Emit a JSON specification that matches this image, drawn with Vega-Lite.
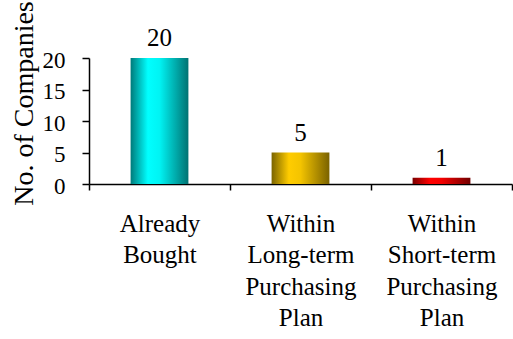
{
  "$schema": "https://vega.github.io/schema/vega-lite/v6.json",
  "autosize": "none",
  "width": 423,
  "height": 126,
  "padding": {"top": 58, "left": 89, "right": 1, "bottom": 155},
  "background": "white",
  "config": {
    "view": {"stroke": null},
    "font": "Liberation Serif",
    "axis": {"labelFont": "Liberation Serif", "titleFont": "Liberation Serif"},
    "text": {"font": "Liberation Serif"}
  },
  "data": {"values": [
    {"category": "Already|Bought", "companies": 20},
    {"category": "Within|Long-term|Purchasing|Plan", "companies": 5},
    {"category": "Within|Short-term|Purchasing|Plan", "companies": 1}
  ]},
  "encoding": {
    "x": {
      "field": "category", "type": "nominal", "sort": null,
      "scale": {"domain": ["Already|Bought", "Within|Long-term|Purchasing|Plan", "Within|Short-term|Purchasing|Plan"], "paddingInner": 0, "paddingOuter": 0},
      "axis": {
        "title": null, "labelAngle": 0, "labelExpr": "split(datum.label, '|')",
        "labelFontSize": 25, "labelLineHeight": 31.5, "labelColor": "black",
        "labelPadding": 21, "labelBaseline": "top", "labelLimit": 0,
        "tickBand": "extent", "tickSize": 6, "tickColor": "black", "domainColor": "black",
        "domainWidth": 1.5, "tickWidth": 1.5
      }
    },
    "y": {
      "field": "companies", "type": "quantitative",
      "scale": {"domain": [0, 20], "nice": false},
      "axis": {
        "title": "No. of Companies", "values": [0, 5, 10, 15, 20], "grid": false,
        "labelFontSize": 23, "labelColor": "black", "labelPadding": 17,
        "labelOffset": 2,
        "tickSize": 7, "tickColor": "black", "domainColor": "black", "domainWidth": 1.5, "tickWidth": 1.5,
        "titleFontSize": 28, "titleFontWeight": "normal", "titleColor": "black",
        "titleX": -57, "titleY": 45, "titleAlign": "center", "titleBaseline": "alphabetic", "titleAngle": -90
      }
    }
  },
  "layer": [
    {
      "transform": [{"filter": "datum.companies == 20"}],
      "mark": {"type": "bar", "width": {"band": 0.41}, "color": {"gradient": "linear", "x1": 0, "y1": 0, "x2": 1, "y2": 0, "stops": [
        {"offset": 0, "color": "#007a7a"}, {"offset": 0.3, "color": "#00ffff"}, {"offset": 0.5, "color": "#00f4f4"}, {"offset": 1, "color": "#007272"}]}}
    },
    {
      "transform": [{"filter": "datum.companies == 5"}],
      "mark": {"type": "bar", "width": {"band": 0.41}, "color": {"gradient": "linear", "x1": 0, "y1": 0, "x2": 1, "y2": 0, "stops": [
        {"offset": 0, "color": "#7a6400"}, {"offset": 0.3, "color": "#ffcc00"}, {"offset": 0.5, "color": "#f4c400"}, {"offset": 1, "color": "#7a6200"}]}}
    },
    {
      "transform": [{"filter": "datum.companies == 1"}],
      "mark": {"type": "bar", "width": {"band": 0.41}, "color": {"gradient": "linear", "x1": 0, "y1": 0, "x2": 1, "y2": 0, "stops": [
        {"offset": 0, "color": "#7a0000"}, {"offset": 0.3, "color": "#ff0000"}, {"offset": 0.5, "color": "#f40000"}, {"offset": 1, "color": "#720000"}]}}
    },
    {
      "mark": {"type": "text", "dy": -12, "baseline": "alphabetic", "fontSize": 25, "color": "black"},
      "encoding": {"text": {"field": "companies", "type": "quantitative"}}
    }
  ]
}
